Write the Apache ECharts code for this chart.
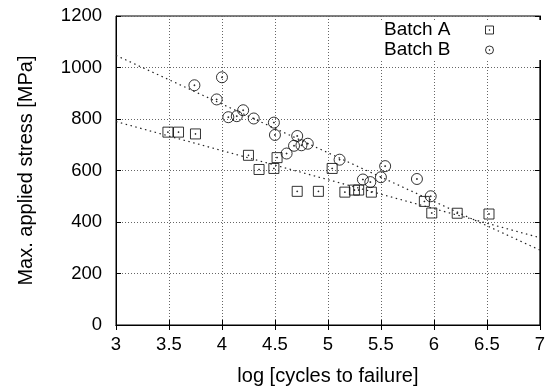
<!DOCTYPE html>
<html>
<head>
<meta charset="utf-8">
<script src="https://cdn.jsdelivr.net/npm/echarts@6/dist/echarts.min.js"></script>
<style>html,body{margin:0;padding:0;background:#fff}#c{width:548px;height:391px}</style>
</head>
<body>
<div id="c"></div>
<script>
var batchAx = [3.49, 3.59, 3.75, 4.25, 4.35, 4.49, 4.52, 4.71, 4.91, 5.04, 5.16, 5.25, 5.29, 5.41, 5.91, 5.98, 6.22, 6.52];
var batchAy = [749, 749, 742, 659, 604, 608, 650, 519, 519, 608, 516, 524, 524, 516, 480, 435, 434, 431];
var batchBx = [3.74, 3.95, 4.00, 4.06, 4.14, 4.20, 4.30, 4.49, 4.50, 4.61, 4.68, 4.71, 4.75, 4.81, 5.11, 5.33, 5.40, 5.50, 5.54, 5.84, 5.97];
var batchBy = [931, 876, 962, 807, 811, 834, 802, 786, 738, 666, 696, 734, 698, 704, 642, 565, 555, 574, 617, 567, 500];
var fitAx = [3, 7];
var fitAy = [790, 339];
var fitBx = [3, 7];
var fitBy = [1047, 291];
var xTicks = [3, 3.5, 4, 4.5, 5, 5.5, 6, 6.5, 7];
var yTicks = [0, 200, 400, 600, 800, 1000, 1200];

function zip(xs, ys) { return xs.map(function (x, i) { return [x, ys[i]]; }); }

var FONT = 'Liberation Sans';
var squarePath = 'path://M0,0H10V10H0ZM4.6,4.6H5.4V5.4H4.6Z';
var circlePath = 'path://M5,0A5,5 0 1,1 5,10A5,5 0 1,1 5,0ZM4.6,4.6H5.4V5.4H4.6Z';

var chart = echarts.init(document.getElementById('c'), null, {renderer: 'canvas'});
var gridLine = {show: true, lineStyle: {color: '#666', type: [1, 2], width: 1}};
chart.setOption({
  animation: false,
  textStyle: {fontFamily: FONT},
  grid: {left: 116, right: 6.5, top: 16, bottom: 64.5, show: true, borderColor: '#000', borderWidth: 1, backgroundColor: 'transparent'},
  legend: {
    orient: 'vertical', right: 7, top: 20, padding: [0, 45, 0, 6], itemGap: 0,
    backgroundColor: '#fff', itemWidth: 8, itemHeight: 8, align: 'right',
    textStyle: {fontFamily: FONT, fontSize: 19, color: '#000', lineHeight: 20, padding: [0, 30, 0, 0]},
    data: [
      {name: 'Batch A', icon: squarePath, itemStyle: {color: 'none', borderColor: '#000', borderWidth: 1}},
      {name: 'Batch B', icon: circlePath, itemStyle: {color: 'none', borderColor: '#000', borderWidth: 1}}
    ]
  },
  xAxis: [{
    type: 'value', min: xTicks[0], max: xTicks[xTicks.length - 1], interval: 0.5,
    name: 'log [cycles to failure]', nameLocation: 'middle', nameGap: 41,
    nameTextStyle: {fontFamily: FONT, fontSize: 20, color: '#000'},
    axisLine: {show: true, lineStyle: {color: '#000'}},
    axisTick: {show: true, inside: true, length: 5, lineStyle: {color: '#000'}},
    axisLabel: {fontFamily: FONT, fontSize: 18.5, color: '#000', margin: 10},
    splitLine: gridLine
  }, {
    type: 'value', position: 'top', min: xTicks[0], max: xTicks[xTicks.length - 1], interval: 0.5,
    axisLine: {show: true, lineStyle: {color: '#000'}},
    axisTick: {show: true, inside: true, length: 5, lineStyle: {color: '#000'}},
    axisLabel: {show: false}, splitLine: {show: false}
  }],
  yAxis: [{
    type: 'value', min: yTicks[0], max: yTicks[yTicks.length - 1], interval: 200,
    name: 'Max. applied stress [MPa]', nameLocation: 'middle', nameGap: 80,
    nameTextStyle: {fontFamily: FONT, fontSize: 20, color: '#000'},
    axisLine: {show: true, lineStyle: {color: '#000'}},
    axisTick: {show: true, inside: true, length: 5, lineStyle: {color: '#000'}},
    axisLabel: {fontFamily: FONT, fontSize: 18.5, color: '#000', margin: 14, formatter: function (v) { return String(v); }},
    splitLine: gridLine
  }, {
    type: 'value', position: 'right', min: yTicks[0], max: yTicks[yTicks.length - 1], interval: 200,
    axisLine: {show: true, lineStyle: {color: '#000'}},
    axisTick: {show: true, inside: true, length: 5, lineStyle: {color: '#000'}},
    axisLabel: {show: false}, splitLine: {show: false}
  }],
  series: [
    {name: 'fitA', type: 'line', data: zip(fitAx, fitAy), showSymbol: false, silent: true,
     lineStyle: {color: '#222', width: 1.2, type: [1.5, 3.5]}},
    {name: 'fitB', type: 'line', data: zip(fitBx, fitBy), showSymbol: false, silent: true,
     lineStyle: {color: '#222', width: 1.2, type: [1.5, 3.5]}},
    {name: 'Batch A', type: 'scatter', data: zip(batchAx, batchAy), symbol: squarePath, symbolSize: 10,
     itemStyle: {color: 'none', borderColor: '#000', borderWidth: 1}},
    {name: 'Batch B', type: 'scatter', data: zip(batchBx, batchBy), symbol: circlePath, symbolSize: 11,
     itemStyle: {color: 'none', borderColor: '#000', borderWidth: 1}}
  ]
});
</script>
</body>
</html>
